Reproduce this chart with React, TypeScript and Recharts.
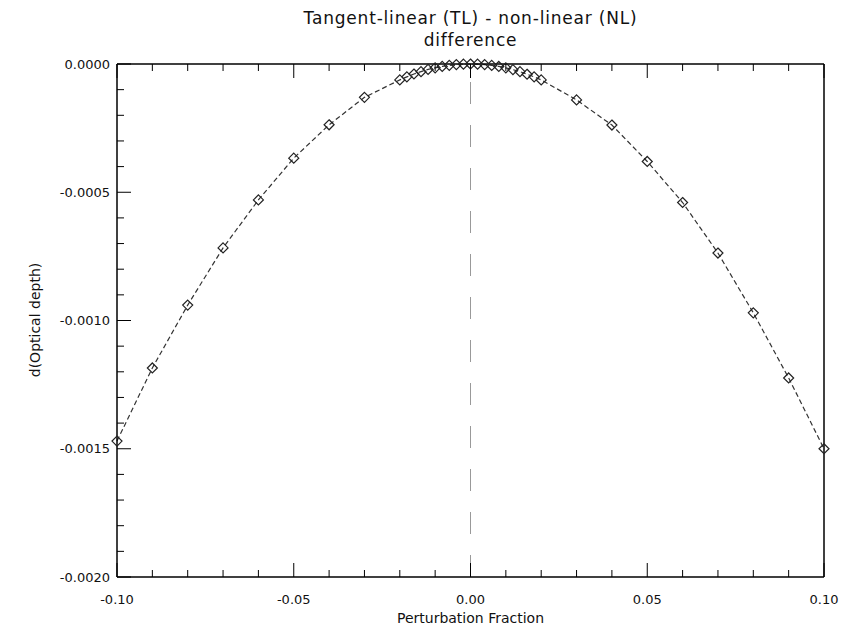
import { LineChart, Line, XAxis, YAxis, ReferenceLine } from "recharts";

const FONT = "'DejaVu Sans', 'Liberation Sans', sans-serif";

// perturbation fraction (x) and TL - NL difference in optical depth (y)
const perturbation = [
  -0.1, -0.09, -0.08, -0.07, -0.06, -0.05, -0.04, -0.03, -0.02,
  -0.018, -0.016, -0.014, -0.012, -0.01, -0.008, -0.006, -0.004, -0.002,
  0, 0.002, 0.004, 0.006, 0.008, 0.01, 0.012, 0.014, 0.016, 0.018,
  0.02, 0.03, 0.04, 0.05, 0.06, 0.07, 0.08, 0.09, 0.1,
];
const difference = [
  -0.00147, -0.001185, -0.00094, -0.000717, -0.00053, -0.000367, -0.000237, -0.00013, -0.000062,
  -0.00005, -0.000039, -0.00003, -0.000021, -0.000015, -0.0000095, -0.0000053, -0.0000024, -0.0000006,
  0, -0.0000006, -0.0000024, -0.0000054, -0.0000096, -0.000015, -0.000022, -0.00003, -0.00004, -0.00005,
  -0.000062, -0.00014, -0.000238, -0.00038, -0.00054, -0.000737, -0.00097, -0.001224, -0.0015,
];

const xTicks = [
  -0.1, -0.09, -0.08, -0.07, -0.06, -0.05, -0.04, -0.03, -0.02, -0.01,
  0, 0.01, 0.02, 0.03, 0.04, 0.05, 0.06, 0.07, 0.08, 0.09, 0.1,
];
const xMajor = [-0.1, -0.05, 0, 0.05, 0.1];
const xLabels = ["-0.10", "-0.05", "0.00", "0.05", "0.10"];

const yTicks = [
  0, -0.0001, -0.0002, -0.0003, -0.0004, -0.0005, -0.0006, -0.0007, -0.0008, -0.0009,
  -0.001, -0.0011, -0.0012, -0.0013, -0.0014, -0.0015, -0.0016, -0.0017, -0.0018, -0.0019, -0.002,
];
const yMajor = [0, -0.0005, -0.001, -0.0015, -0.002];
const yLabels = ["0.0000", "-0.0005", "-0.0010", "-0.0015", "-0.0020"];

const data = perturbation.map((x, i) => ({ x, y: difference[i] }));

const majorIndex = (list: number[], v: number) =>
  list.findIndex((m) => Math.abs(m - v) < 1e-9);

const MAJOR = 14;
const MINOR = 7;

function BottomTick({ x, y, payload }: any) {
  const k = majorIndex(xMajor, payload.value);
  return (
    <g>
      <line x1={x} y1={y} x2={x} y2={y - (k >= 0 ? MAJOR : MINOR)} stroke="#000" />
      {k >= 0 && (
        <text x={x} y={y + 27} textAnchor="middle" fontSize={13} fontFamily={FONT} fill="#111">
          {xLabels[k]}
        </text>
      )}
    </g>
  );
}

function TopTick({ x, y, payload }: any) {
  const k = majorIndex(xMajor, payload.value);
  return <line x1={x} y1={y} x2={x} y2={y + (k >= 0 ? MAJOR : MINOR)} stroke="#000" />;
}

function LeftTick({ x, y, payload }: any) {
  const k = majorIndex(yMajor, payload.value);
  return (
    <g>
      <line x1={x} y1={y} x2={x + (k >= 0 ? MAJOR : MINOR)} y2={y} stroke="#000" />
      {k >= 0 && (
        <text x={x - 7} y={y} dy="0.35em" textAnchor="end" fontSize={13} fontFamily={FONT} fill="#111">
          {yLabels[k]}
        </text>
      )}
    </g>
  );
}

function RightTick({ x, y, payload }: any) {
  const k = majorIndex(yMajor, payload.value);
  return <line x1={x} y1={y} x2={x - (k >= 0 ? MAJOR : MINOR)} y2={y} stroke="#000" />;
}

function Diamond({ cx, cy, index }: any) {
  if (cx == null || cy == null) return <g key={`d-${index}`} />;
  const r = 5;
  return (
    <polygon
      key={`d-${index}`}
      points={`${cx},${cy - r} ${cx + r},${cy} ${cx},${cy + r} ${cx - r},${cy}`}
      fill="none"
      stroke="#222"
      strokeWidth={1.2}
    />
  );
}

const axisLine = { stroke: "#000", strokeWidth: 1.5 };

export default function App() {
  return (
    <div style={{ position: "absolute", left: 0, top: 0, width: 851, height: 634, background: "#fff", fontFamily: FONT, color: "#111" }}>
      <div style={{ position: "absolute", left: 117, width: 707, top: 7, textAlign: "center", fontSize: 17, lineHeight: "22px", letterSpacing: 0.8 }}>
        Tangent-linear (TL) - non-linear (NL)
        <br />
        difference
      </div>
      <LineChart
        width={851}
        height={634}
        data={data}
        margin={{ top: 54, right: 17, bottom: 27, left: 57 }}
      >
        <XAxis
          xAxisId="bottom"
          type="number"
          dataKey="x"
          domain={[-0.1, 0.1]}
          ticks={xTicks}
          interval={0}
          tickSize={0}
          tickMargin={0}
          tickLine={false}
          tick={BottomTick}
          axisLine={axisLine}
          height={30}
        />
        <XAxis
          xAxisId="top"
          orientation="top"
          type="number"
          dataKey="x"
          domain={[-0.1, 0.1]}
          ticks={xTicks}
          interval={0}
          tickSize={0}
          tickMargin={0}
          tickLine={false}
          tick={TopTick}
          axisLine={axisLine}
          height={10}
        />
        <YAxis
          yAxisId="left"
          type="number"
          domain={[-0.002, 0]}
          ticks={yTicks}
          interval={0}
          tickSize={0}
          tickMargin={0}
          tickLine={false}
          tick={LeftTick}
          axisLine={axisLine}
          width={60}
        />
        <YAxis
          yAxisId="right"
          orientation="right"
          type="number"
          domain={[-0.002, 0]}
          ticks={yTicks}
          interval={0}
          tickSize={0}
          tickMargin={0}
          tickLine={false}
          tick={RightTick}
          axisLine={axisLine}
          width={10}
        />
        <ReferenceLine
          xAxisId="bottom"
          yAxisId="left"
          x={0}
          stroke="#999"
          strokeDasharray="22 21"
        />
        <Line
          xAxisId="bottom"
          yAxisId="left"
          type="linear"
          dataKey="y"
          stroke="#333"
          strokeWidth={1.2}
          strokeDasharray="5 3"
          dot={Diamond}
          activeDot={false}
          isAnimationActive={false}
        />
      </LineChart>
      <div style={{ position: "absolute", left: 117, width: 707, top: 610, textAlign: "center", fontSize: 14 }}>
        Perturbation Fraction
      </div>
      <div
        style={{
          position: "absolute",
          left: 35,
          top: 320,
          transform: "translate(-50%, -50%) rotate(-90deg)",
          whiteSpace: "nowrap",
          fontSize: 14,
        }}
      >
        d(Optical depth)
      </div>
    </div>
  );
}
